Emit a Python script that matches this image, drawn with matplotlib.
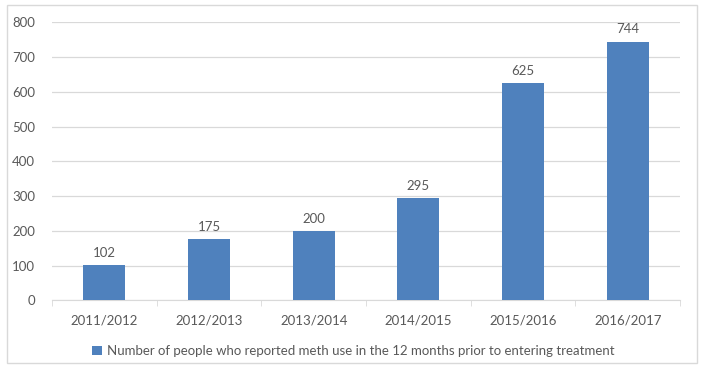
import numpy as np
import matplotlib.pyplot as plt
from matplotlib.patches import Rectangle

years = ['2011/2012', '2012/2013', '2013/2014', '2014/2015', '2015/2016', '2016/2017']
people = [102, 175, 200, 295, 625, 744]
series_label = 'Number of people who reported meth use in the 12 months prior to entering treatment'

plt.rcParams['font.family'] = ['Lato', 'DejaVu Sans']
grey = '#595959'
blue = '#4F81BD'

fig = plt.figure(figsize=(7.07, 3.84), dpi=100)
ax = fig.add_axes([0.0735, 0.218, 0.8885, 0.724])

x = np.arange(len(years))
bars = ax.bar(x, people, width=0.4, color=blue, label=series_label, zorder=3)
for xi, v in zip(x, people):
    ax.text(xi, v + 18, str(v), ha='center', va='bottom', fontsize=9.5, color=grey)

ax.set_xlim(-0.5, len(years) - 0.5)
ax.set_ylim(0, 800)
ax.set_yticks(np.arange(0, 801, 100))
ax.yaxis.grid(True, color='#D9D9D9', linewidth=0.9, zorder=0)
ax.set_xticks(x)
ax.set_xticklabels(years)
ax.set_xticks(np.arange(-0.5, len(years) + 0.5, 1), minor=True)
ax.tick_params(axis='x', which='major', length=0, pad=10, labelsize=9.5, labelcolor=grey)
ax.tick_params(axis='x', which='minor', length=4, color='#D9D9D9', direction='out')
ax.tick_params(axis='y', length=0, pad=12, labelsize=9.5, labelcolor=grey)
for s in ['top', 'right', 'left']:
    ax.spines[s].set_visible(False)
ax.spines['bottom'].set_color('#D9D9D9')

fig.legend(handles=[bars], labels=[series_label], loc='center', bbox_to_anchor=(0.5, 0.085),
           frameon=False, fontsize=9.5, labelcolor=grey, handlelength=0.7, handleheight=0.7,
           handletextpad=0.4)

fig.patches.append(Rectangle((7 / 707, 1 - 363 / 384), 690 / 707, 358 / 384, transform=fig.transFigure,
                             fill=False, edgecolor='#D9D9D9', linewidth=1))

fig.savefig('out.png', dpi=100)
